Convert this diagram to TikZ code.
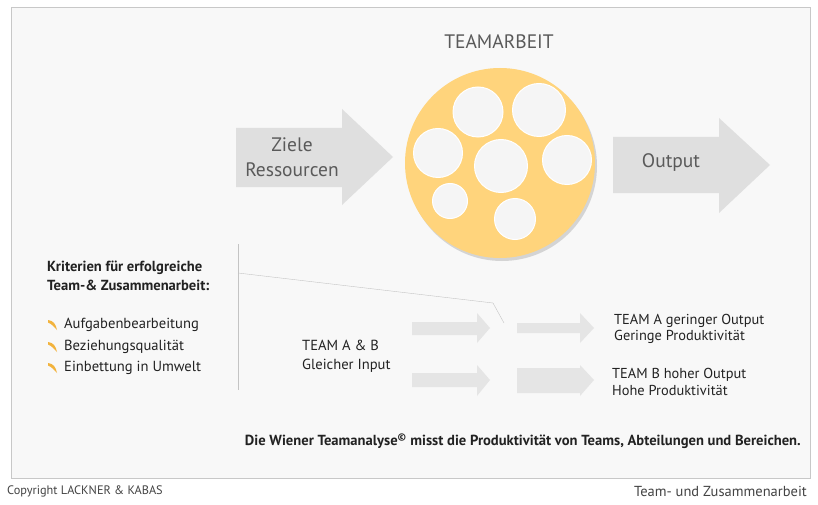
\documentclass[tikz,border=0pt]{standalone}
\usepackage{fontspec}
\setmainfont{PT Sans}
\definecolor{panel}{HTML}{F8F8F8}
\definecolor{framegray}{HTML}{C8C8C8}
\definecolor{arrowgray}{HTML}{DFDFDF}
\definecolor{lightarrow}{HTML}{E5E5E5}
\definecolor{teamyellow}{HTML}{FFD47C}
\definecolor{bubble}{HTML}{F5F5F5}
\definecolor{labelgray}{HTML}{5A5A5A}
\definecolor{textdark}{HTML}{222222}
\definecolor{bulletorange}{HTML}{F2B33D}
\definecolor{linegray}{HTML}{C4C4C4}
\begin{document}
\begin{tikzpicture}[x=1pt,y=-1pt,
    bigtext/.style={font=\fontsize{19.5}{25}\selectfont, text=labelgray, inner sep=0pt},
    headtext/.style={font=\fontsize{19.5}{22}\selectfont, text=labelgray, inner sep=0pt},
    itemtext/.style={font=\fontsize{14.6}{19}\selectfont, text=textdark, inner sep=0pt, align=left},
    resulttext/.style={font=\fontsize{14.4}{16.6}\selectfont, text=textdark, inner sep=0pt, align=left},
    boldtext/.style={font=\fontsize{14.6}{18.5}\selectfont\bfseries, text=textdark, inner sep=0pt, align=left},
    foottext/.style={font=\fontsize{12.3}{14}\selectfont, text=textdark!85, inner sep=0pt}]
    \useasboundingbox (0,0) rectangle (818,505);
    \fill[white] (0,0) rectangle (818,505);
    \filldraw[draw=framegray, fill=panel] (11,7) rectangle (810,478);

    % input and output arrows
    \fill[arrowgray] (236,128) -- (342,128) -- (342,109) -- (393,157) -- (342,205) -- (342,187) -- (236,187) -- cycle;
    \fill[arrowgray] (613,137) -- (719,137) -- (719,118) -- (770,165) -- (719,213) -- (719,193) -- (613,193) -- cycle;

    % team circle
    \fill[black!30, opacity=.5] (502,166) circle (95pt);
    \fill[teamyellow] (500,163) circle (95pt);
    \foreach \cx/\cy/\r in {478/112/25, 539/110/26.5, 438/153/24.5, 501/166/26.5,
                            567/160/24.5, 450/201/17.5, 515/219/20.5}
        \filldraw[draw=white, fill=bubble, line width=1pt] (\cx,\cy) circle (\r pt);

    \node[headtext] (teamarbeit) at (499,42) {TEAMARBEIT};
    \node[bigtext, align=center] (inputs) at (292,157) {Ziele\\Ressourcen};
    \node[bigtext] (output) at (671,163) {Output};

    % criteria
    \draw[linegray] (238,244) -- (238,390);
    \coordinate (linestart) at (238,273);
    \coordinate (bend) at (493,303);
    \coordinate (lineend) at (504,323);
    \draw[linegray] (linestart) -- (bend) -- (lineend);

    \node[boldtext, anchor=west] (kriterien) at (47,276) {Kriterien für erfolgreiche\\Team-\& Zusammenarbeit:};
    \foreach \i/\yy/\txt in {1/325/Aufgabenbearbeitung, 2/347/Beziehungsqualität, 3/368/Einbettung in Umwelt} {
        \fill[bulletorange, shift={(52,\yy)}] (-4,-5) .. controls (1,-4.5) and (4,-1) .. (5,5)
            .. controls (2,2) and (0,-1) .. (-4,-2.5) -- cycle;
        \node[itemtext, anchor=west] (crit\i) at (64,\yy) {\txt};
    }

    % team A and B
    \node[itemtext, anchor=west] (teamab) at (302,356) {TEAM A \& B\\Gleicher Input};
    \fill[lightarrow] (412,322) -- (477,322) -- (477,313) -- (490,328) -- (477,343) -- (477,335) -- (412,335) -- cycle;
    \fill[lightarrow] (517,323) -- (580,323) -- (580,313) -- (594,328) -- (580,343) -- (580,333) -- (517,333) -- cycle;
    \fill[lightarrow] (412,373) -- (477,373) -- (477,365) -- (490,380) -- (477,396) -- (477,387) -- (412,387) -- cycle;
    \fill[lightarrow] (517,368) -- (580,368) -- (580,365) -- (594,380) -- (580,396) -- (580,393) -- (517,393) -- cycle;
    \node[resulttext, anchor=west] (teama) at (614,329) {TEAM A geringer Output\\Geringe Produktivität};
    \node[resulttext, anchor=west] (teamb) at (612,382) {TEAM B hoher Output\\Hohe Produktivität};

    \node[boldtext, anchor=east] (wiener) at (801,441) {Die Wiener Teamanalyse\textsuperscript{©} misst die Produktivität von Teams, Abteilungen und Bereichen.};

    % footer
    \node[foottext, anchor=west] (copyright) at (7,491) {Copyright LACKNER \& KABAS};
    \node[foottext, font=\fontsize{14.5}{16}\selectfont, anchor=east] (topic) at (807,491) {Team- und Zusammenarbeit};
\end{tikzpicture}
\end{document}
